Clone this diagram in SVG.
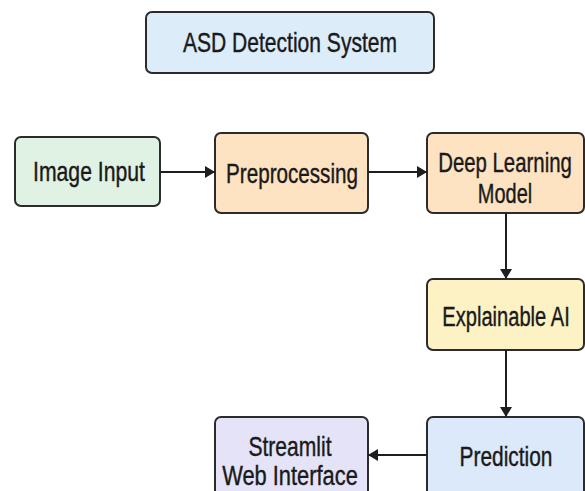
<svg xmlns="http://www.w3.org/2000/svg" width="585" height="491" viewBox="0 0 585 491">
<defs>
<marker id="ah" viewBox="0 0 10 12" refX="10" refY="6" markerWidth="10" markerHeight="12" markerUnits="userSpaceOnUse" orient="auto">
<path d="M0,0 L10,6 L0,12 z" fill="#1e1e1e"/>
</marker>
<style>
.box{stroke:#2b2b2b;stroke-width:2}
.t{font-family:"Liberation Sans",Arial,sans-serif;font-size:27px;fill:#1a1a1a;stroke:#1a1a1a;stroke-width:0.4;text-anchor:middle}
.c{stroke:#1e1e1e;stroke-width:2;fill:none;marker-end:url(#ah)}
</style>
</defs>
<rect width="585" height="491" fill="#ffffff"/>
<g id="title">
<rect class="box" x="146" y="12" width="288" height="61" rx="6" fill="#dcecf9"/>
<text class="t" transform="translate(290,52) scale(0.78,1)">ASD Detection System</text>
</g>
<g id="image-input">
<rect class="box" x="15" y="137" width="145" height="69" rx="6" fill="#e0f2e3"/>
<text class="t" transform="translate(89,181) scale(0.785,1)">Image Input</text>
</g>
<g id="preprocessing">
<rect class="box" x="215" y="133" width="153" height="80" rx="6" fill="#fde3c2"/>
<text class="t" transform="translate(292,183) scale(0.765,1)">Preprocessing</text>
</g>
<g id="deep-learning">
<rect class="box" x="427" y="133" width="157" height="80" rx="6" fill="#fde3c2"/>
<text class="t" transform="translate(505,172) scale(0.755,1)">Deep Learning</text>
<text class="t" transform="translate(505,203) scale(0.74,1)">Model</text>
</g>
<g id="explainable-ai">
<rect class="box" x="427" y="279" width="157" height="71" rx="6" fill="#fdf2c4"/>
<text class="t" transform="translate(506,326) scale(0.745,1)">Explainable AI</text>
</g>
<g id="prediction">
<rect class="box" x="427" y="417" width="157" height="90" rx="6" fill="#dbe9fb"/>
<text class="t" transform="translate(506,466) scale(0.775,1)">Prediction</text>
</g>
<g id="streamlit">
<rect class="box" x="215" y="417" width="153" height="90" rx="6" fill="#e5e3f8"/>
<text class="t" transform="translate(290,456) scale(0.78,1)">Streamlit</text>
<text class="t" transform="translate(290,485) scale(0.81,1)">Web Interface</text>
</g>
<g id="connectors">
<line class="c" x1="160" y1="172" x2="215" y2="172"/>
<line class="c" x1="368" y1="172" x2="427" y2="172"/>
<line class="c" x1="506" y1="213" x2="506" y2="279"/>
<line class="c" x1="506" y1="350" x2="506" y2="417"/>
<line class="c" x1="427" y1="455" x2="368" y2="455"/>
</g>
</svg>
